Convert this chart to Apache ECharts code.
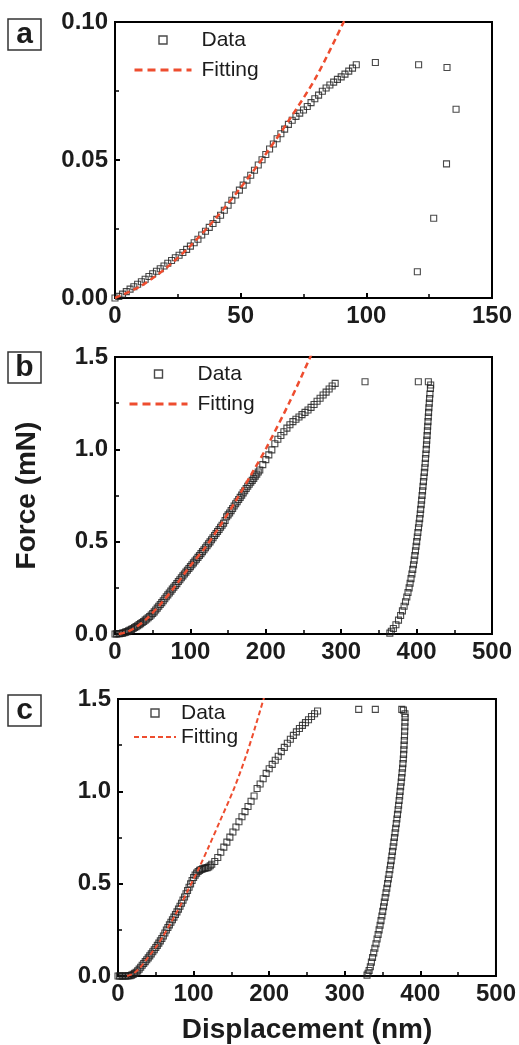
<!DOCTYPE html>
<html>
<head>
<meta charset="utf-8">
<script src="https://cdn.jsdelivr.net/npm/echarts@6/dist/echarts.min.js"></script>
<style>
html,body{margin:0;padding:0;background:#fff;}
#chart{width:519px;height:1045px;}
</style>
</head>
<body>
<div id="chart"></div>
<script>
// ---------- Panel a ----------
const aLoading = [
[0,0],[1.5,0.0006],[3,0.0014],[4.5,0.0023],[6,0.0032],[7.5,0.0041],[9,0.0050],[10.5,0.0059],[12,0.0068],[13.5,0.0078],
[15,0.0088],[16.5,0.0097],[18,0.0106],[19.5,0.0116],[21,0.0126],[22.5,0.0136],[24,0.0146],[25.5,0.0155],[27,0.0165],[28.5,0.0176],
[30,0.0188],[31.5,0.0200],[33,0.0213],[34.5,0.0228],[36,0.0242],[37.5,0.0256],[39,0.0270],[40.5,0.0285],[42,0.0300],[43.5,0.0318],
[45,0.0336],[46.5,0.0354],[48,0.0373],[49.5,0.0391],[51,0.0409],[52.5,0.0427],[54,0.0445],[55.5,0.0463],[57,0.0482],[58.5,0.0501],
[60,0.0520],[61.5,0.0540],[63,0.0558],[64.5,0.0577],[66,0.0595],[67.5,0.0612],[69,0.0629],[70.5,0.0644],[72,0.0658],[73.5,0.0670],
[75,0.0681],[76.5,0.0694],[78,0.0708],[79.5,0.0722],[81,0.0735],[82.5,0.0749],[84,0.0761],[85.5,0.0772],[87,0.0782],[88.5,0.0792],
[90,0.0801],[91.5,0.0811],[93,0.0822],[94.5,0.0833],[96,0.0845]
];
const aUnloading = [[103.6,0.0853],[120.8,0.0845],[132.1,0.0835],[135.7,0.0684],[131.9,0.0486],[126.8,0.0289],[120.3,0.0095]];
const aFit = [[0,0],[10,0.0042],[20,0.0106],[30,0.0189],[40,0.0288],[50,0.0400],[60,0.0522],[70,0.0655],[80,0.0800],[91,0.1000],[93,0.1040]];

// ---------- Panel b ----------
const bLoading = [
[0,0],[2,0.0005],[4,0.001],[6,0.002],[8,0.003],[10,0.005],[12,0.007],[14,0.010],[16,0.013],[18,0.017],
[20,0.021],[22,0.025],[24,0.030],[26,0.035],[28,0.040],[30,0.045],[32,0.051],[34,0.056],[36,0.062],[38,0.068],
[40,0.075],[42,0.081],[44,0.088],[46,0.095],[48,0.103],[50,0.111],[52,0.120],[54,0.130],[56,0.140],[58,0.150],
[60,0.160],[62,0.170],[64,0.180],[66,0.191],[68,0.202],[70,0.212],[72,0.222],[74,0.232],[76,0.243],[78,0.253],
[80,0.263],[82,0.273],[84,0.284],[86,0.294],[88,0.305],[90,0.315],[92,0.325],[94,0.335],[96,0.345],[98,0.355],
[100,0.365],[102,0.375],[104,0.385],[106,0.395],[108,0.405],[110,0.415],[112,0.425],[114,0.435],[116,0.446],[118,0.456],
[120,0.467],[122,0.478],[124,0.489],[126,0.499],[128,0.510],[130,0.521],[132,0.533],[134,0.544],[136,0.555],[138,0.566],
[140,0.578],[142,0.589],[144,0.600],[146,0.615],[148,0.635],[150,0.645],[152,0.655],[154,0.668],[156,0.680],[158,0.693],
[160,0.705],[162,0.716],[164,0.728],[166,0.740],[168,0.752],[170,0.764],[172,0.776],[174,0.788],[176,0.800],[178,0.811],
[180,0.822],[182,0.832],[184,0.843],[186,0.855],[188,0.866],[190,0.877],
[192,0.888],[196,0.917],[200,0.944],[204,0.970],[208,0.997],[212,1.030],[216,1.055],[220,1.075],[224,1.095],[228,1.115],
[232,1.133],[236,1.150],[240,1.163],[244,1.175],[248,1.188],[252,1.200],[256,1.213],[260,1.227],[264,1.243],[268,1.260],
[272,1.277],[276,1.294],[280,1.310],[284,1.327],[288,1.343],[292,1.357]
];
const bHold = [[331.6,1.366],[402.3,1.366],[415.6,1.366]];
const bUnloading = [
[418.7,1.348],[418.3,1.33],[417.7,1.30],[417.2,1.275],[416.8,1.25],[416.3,1.225],[415.9,1.20],[415.5,1.175],[415.1,1.15],[414.7,1.125],
[414.3,1.10],[413.9,1.075],[413.5,1.05],[413.1,1.025],[412.7,1.0],[412.3,0.975],[411.8,0.95],[411.4,0.925],[410.9,0.90],[410.3,0.875],
[409.7,0.85],[409.1,0.825],[408.5,0.80],[407.9,0.775],[407.3,0.75],[406.7,0.725],[406.1,0.70],[405.4,0.675],[404.8,0.65],[404.1,0.625],
[403.3,0.60],[402.5,0.575],[401.7,0.55],[400.9,0.525],[400.1,0.50],[399.3,0.475],[398.5,0.45],[397.6,0.425],[396.8,0.40],[395.9,0.375],
[394.9,0.35],[393.8,0.325],[392.6,0.30],[391.4,0.275],[390.1,0.25],[388.6,0.225],[387.0,0.20],[385.3,0.175],[383.4,0.15],[381.2,0.125],
[378.8,0.10],[376.0,0.075],[372.6,0.05],[369.2,0.03],[366.5,0.015],[364.5,0.005]
];
const bFit = [[5,0],[15,0.01],[25,0.03],[40,0.075],[60,0.16],[80,0.26],[100,0.37],[120,0.47],[140,0.59],[160,0.72],[183,0.88],[201,1.01],[232,1.26],[259,1.5],[262,1.53]];

// ---------- Panel c ----------
const cLoading = [
[0,0],[2,0],[4,0],[6,0],[8,0],[10,0],[12,0],[14,0.001],[16,0.002],[18,0.005],
[20,0.009],[22,0.014],[24,0.020],[26,0.028],[28,0.037],[30,0.047],[32,0.058],[34,0.068],[36,0.078],[38,0.088],
[40,0.098],[42,0.109],[44,0.120],[46,0.131],[48,0.142],[50,0.154],[52,0.166],[54,0.178],[56,0.190],[58,0.203],
[60,0.217],[62,0.233],[64,0.249],[66,0.263],[68,0.277],[70,0.291],[72,0.305],[74,0.319],[76,0.333],[78,0.347],
[80,0.362],[82,0.378],[84,0.394],[86,0.411],[88,0.428],[90,0.445],[92,0.463],[94,0.481],[96,0.499],[98,0.517],
[100,0.533],[102,0.546],[104,0.557],[106,0.566],[108,0.572],[110,0.577],[112,0.580],[114,0.583],[116,0.585],[118,0.587],
[120,0.590],[122,0.597],[124,0.605],
[128,0.620],[132,0.642],[136,0.670],[140,0.698],[144,0.725],[148,0.752],[152,0.780],[156,0.807],
[160,0.835],[164,0.862],[168,0.890],[172,0.918],[176,0.946],[180,0.975],[184,1.015],[188,1.040],[192,1.068],[196,1.097],
[200,1.122],[204,1.146],[208,1.168],[212,1.190],[216,1.215],[220,1.238],[224,1.260],[228,1.282],[232,1.303],[236,1.322],
[240,1.340],[244,1.357],[248,1.372],[252,1.388],[256,1.405],[260,1.420],[264,1.435]
];
const cHold = [[318.4,1.444],[340.4,1.444],[375.4,1.444]];
const cUnloading = [
[377.6,1.44],[379.6,1.42],[379.8,1.40],[379.6,1.375],[379.4,1.35],[379.2,1.325],[379.0,1.30],[378.7,1.275],[378.4,1.25],[378.1,1.225],
[377.8,1.20],[377.4,1.175],[376.9,1.15],[376.4,1.125],[375.8,1.10],[375.2,1.075],[374.6,1.05],[373.9,1.025],[373.2,1.0],[372.6,0.975],
[371.9,0.95],[371.2,0.925],[370.5,0.90],[369.7,0.875],[368.9,0.85],[368.1,0.825],[367.3,0.80],[366.5,0.775],[365.7,0.75],[364.9,0.725],
[364.0,0.70],[363.1,0.675],[362.3,0.65],[361.4,0.625],[360.5,0.60],[359.6,0.575],[358.6,0.55],[357.6,0.525],[356.6,0.50],[355.6,0.475],
[354.5,0.45],[353.4,0.425],[352.3,0.40],[351.3,0.375],[350.2,0.35],[349.1,0.325],[347.9,0.30],[346.7,0.275],[345.4,0.25],[344.1,0.225],
[342.7,0.20],[341.3,0.175],[339.8,0.15],[338.3,0.125],[336.7,0.10],[335.2,0.075],[333.8,0.05],[332.2,0.03],[330.8,0.015],[329.4,0.005]
];
const cFit = [[12,0],[20,0.012],[28,0.04],[36,0.08],[44,0.123],[52,0.167],[60,0.218],[68,0.275],[76,0.333],[84,0.394],[92,0.46],[100,0.525],[106,0.574],[120,0.70],[135,0.84],[154,1.02],[170,1.2],[182,1.355],[194,1.52]];

// ---------- Axis settings ----------
const xRanges = [[0,150,50],[0,500,100],[0,500,100]];
const yRanges = [[0,0.10,0.05],[0,1.5,0.5],[0,1.5,0.5]];
const yDecimals = [2,1,1];
const panelLetters = ['a','b','c'];
const seriesNames = ['Data','Fitting'];
const xTitle = 'Displacement (nm)';
const yTitle = 'Force (mN)';

const FONT = '"Liberation Sans", Arial, Helvetica, sans-serif';
const RED = '#ee4d2f';
const INK = '#1c1c1c';

const grids = [
  {left:115, top:22, width:377, height:276},
  {left:115, top:357, width:377, height:277},
  {left:118, top:699, width:380, height:277}
];

function xAxis(i){
  const r = xRanges[i];
  return {
    type:'value', gridIndex:i, min:r[0], max:r[1], interval:r[2],
    axisLine:{show:true, onZero:false, lineStyle:{color:'#000', width:2}},
    axisTick:{show:true, inside:true, length:5, lineStyle:{color:'#000', width:2}},
    minorTick:{show:true, splitNumber:2, length:4, lineStyle:{color:'#000', width:1.5}},
    splitLine:{show:false},
    axisLabel:{fontFamily:FONT, fontWeight:'bold', fontSize:24, color:INK, margin:6},
    name: i===2 ? xTitle : '',
    nameLocation:'middle', nameGap:40,
    nameTextStyle:{fontFamily:FONT, fontWeight:'bold', fontSize:28, color:INK}
  };
}
function yAxis(i){
  const r = yRanges[i];
  return {
    type:'value', gridIndex:i, min:r[0], max:r[1], interval:r[2],
    axisLine:{show:true, onZero:false, lineStyle:{color:'#000', width:2}},
    axisTick:{show:true, inside:true, length:5, lineStyle:{color:'#000', width:2}},
    minorTick:{show:true, splitNumber:2, length:4, lineStyle:{color:'#000', width:1.5}},
    splitLine:{show:false},
    axisLabel:{fontFamily:FONT, fontWeight:'bold', fontSize:24, color:INK, margin:7,
      formatter:function(v){return v.toFixed(yDecimals[i]);}},
    name: i===1 ? yTitle : '',
    nameLocation:'middle', nameGap:74,
    nameTextStyle:{fontFamily:FONT, fontWeight:'bold', fontSize:28, color:INK}
  };
}

const dataSets = [
  aLoading.concat(aUnloading),
  bLoading.concat(bHold, bUnloading),
  cLoading.concat(cHold, cUnloading)
];
const fits = [aFit, bFit, cFit];
const fitWidth = [2.5, 2.5, 2];
const fitDash = [[6,4],[6,4],[5,3]];

const series = [];
for (let i=0;i<3;i++){
  series.push({
    name:seriesNames[0], type:'scatter', xAxisIndex:i, yAxisIndex:i,
    data:dataSets[i], symbol:'rect', symbolSize:6,
    itemStyle:{color:'rgba(255,255,255,0)', borderColor:INK, borderWidth:1.1},
    silent:true, z:2
  });
  series.push({
    name:seriesNames[1], type:'line', xAxisIndex:i, yAxisIndex:i,
    data:fits[i], showSymbol:false, symbol:'none', smooth:0.3, clip:true,
    itemStyle:{color:RED},
    lineStyle:{color:RED, width:fitWidth[i], type:fitDash[i]},
    silent:true, z:3
  });
}

const legendPos = [
  {left:133, top:29, itemWidth:57, gap:8},
  {left:128, top:363, itemWidth:58, gap:8},
  {left:133, top:702, itemWidth:42, gap:2}
];
const legends = legendPos.map(function(p,i){
  return {
    orient:'vertical', left:p.left, top:p.top, padding:0,
    itemWidth:p.itemWidth, itemHeight:8, itemGap:p.gap,
    selectedMode:false, symbolKeepAspect:true,
    textStyle:{fontFamily:FONT, fontSize:21, color:INK, lineHeight:22, padding:[0,0,0,i===2?0:5]},
    data:[
      {name:seriesNames[0], icon:'path://M0,0L10,0L10,10L0,10Z',
        itemStyle:{color:'rgba(255,255,255,0)', borderColor:INK, borderWidth:1.4}},
      {name:seriesNames[1], itemStyle:{opacity:0, color:'rgba(0,0,0,0)', borderWidth:0},
        lineStyle:{color:RED, width: i===2?2:3, type: i===2?[5,3]:[8,5]}}
    ]
  };
});

const boxes = [19, 352, 695];
const graphic = [];
boxes.forEach(function(t,i){
  graphic.push({type:'rect', x:8, y:t, shape:{x:0, y:0, width:33, height:31},
    style:{fill:'#fff', stroke:'#333', lineWidth:1.5}, z:10});
  graphic.push({type:'text', x:24.5, y:t+16,
    style:{text:panelLetters[i], font:'bold 30px '+FONT, fill:INK, align:'center', verticalAlign:'middle',
      textAlign:'center', textVerticalAlign:'middle'}, z:11});
});

const chart = echarts.init(document.getElementById('chart'), null, {renderer:'canvas'});
chart.setOption({
  backgroundColor:'#fff',
  animation:false,
  grid: grids.map(function(g){ return Object.assign({show:true, borderColor:'#000', borderWidth:2, backgroundColor:'transparent'}, g); }),
  xAxis:[0,1,2].map(xAxis),
  yAxis:[0,1,2].map(yAxis),
  legend:legends,
  graphic:graphic,
  series:series
});
</script>
</body>
</html>
